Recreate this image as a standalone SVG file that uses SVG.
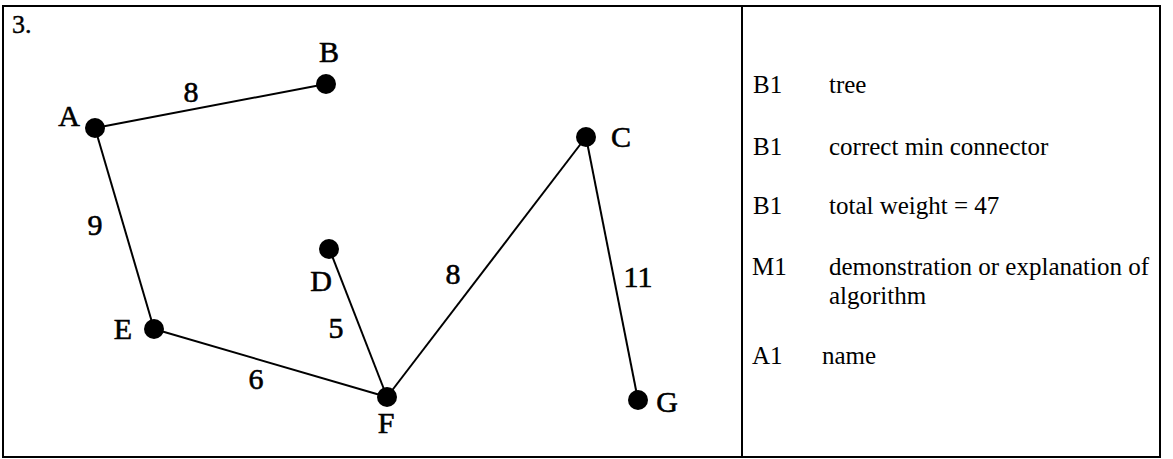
<svg xmlns="http://www.w3.org/2000/svg" width="1173" height="459" viewBox="0 0 1173 459">
<style>
.t{font-family:"Liberation Serif","Times New Roman",serif;fill:#000}
.lbl{font-size:30px;stroke:#000;stroke-width:0.6}
.r{font-size:25px}
.e{stroke:#000;stroke-width:2;fill:none}
.n{fill:#000}
</style>
<rect x="3" y="6" width="1157" height="451" fill="#fff" stroke="#000" stroke-width="2"/>
<line x1="742" y1="6" x2="742" y2="457" stroke="#000" stroke-width="2"/>
<text class="t" x="12" y="33" font-size="26" stroke="#000" stroke-width="0.4">3.</text>
<g id="connectors">
<line class="e" x1="95" y1="128" x2="326" y2="84"/>
<line class="e" x1="95" y1="128" x2="154" y2="329"/>
<line class="e" x1="154" y1="329" x2="387" y2="397"/>
<line class="e" x1="329" y1="248" x2="387" y2="397"/>
<line class="e" x1="387" y1="397" x2="586" y2="137"/>
<line class="e" x1="586" y1="137" x2="638" y2="400"/>
<text class="t lbl" x="191" y="102" text-anchor="middle">8</text>
<text class="t lbl" x="95" y="235" text-anchor="middle">9</text>
<text class="t lbl" x="256" y="389" text-anchor="middle">6</text>
<text class="t lbl" x="336" y="338" text-anchor="middle">5</text>
<text class="t lbl" x="453" y="284" text-anchor="middle">8</text>
<text class="t lbl" x="638" y="287" text-anchor="middle">11</text>
</g>
<g id="node-A"><circle class="n" cx="95" cy="128" r="10"/><text class="t lbl" x="69" y="126" text-anchor="middle">A</text></g>
<g id="node-B"><circle class="n" cx="326" cy="84" r="10"/><text class="t lbl" x="329" y="62" text-anchor="middle">B</text></g>
<g id="node-C"><circle class="n" cx="586" cy="137" r="10"/><text class="t lbl" x="621" y="147" text-anchor="middle">C</text></g>
<g id="node-D"><circle class="n" cx="329" cy="249" r="10"/><text class="t lbl" x="321" y="291" text-anchor="middle">D</text></g>
<g id="node-E"><circle class="n" cx="154" cy="329" r="10"/><text class="t lbl" x="123" y="339" text-anchor="middle">E</text></g>
<g id="node-F"><circle class="n" cx="387" cy="397" r="10"/><text class="t lbl" x="386" y="433" text-anchor="middle">F</text></g>
<g id="node-G"><circle class="n" cx="638" cy="400" r="10"/><text class="t lbl" x="667" y="412" text-anchor="middle">G</text></g>
<g id="marks" class="t r">
<text x="753" y="93">B1</text><text x="829" y="93">tree</text>
<text x="753" y="155">B1</text><text x="829" y="155">correct min connector</text>
<text x="753" y="214">B1</text><text x="829" y="214">total weight = 47</text>
<text x="752" y="275">M1</text><text x="829" y="275">demonstration or explanation of</text>
<text x="829" y="304">algorithm</text>
<text x="752" y="364">A1</text><text x="822" y="364">name</text>
</g>
</svg>
